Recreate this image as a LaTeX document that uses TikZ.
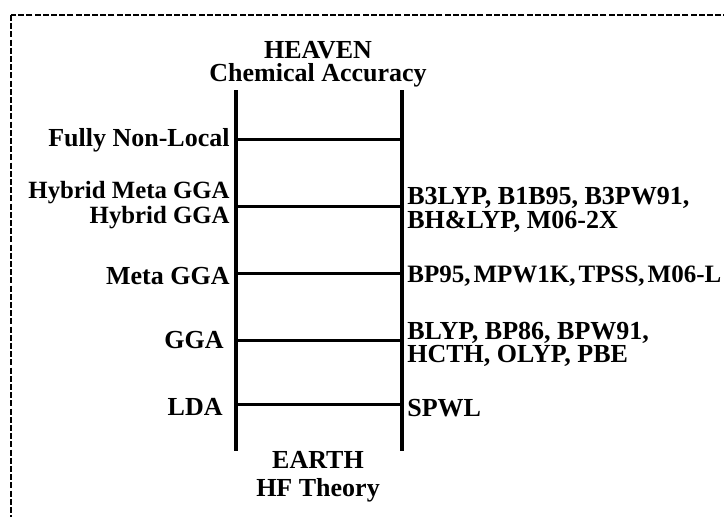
\documentclass[tikz,border=0pt]{standalone}
\usepackage{fontspec}
\setmainfont{Liberation Serif}
\usetikzlibrary{positioning}

\begin{document}
\begin{tikzpicture}[x=0.5pt,y=-0.5pt,
  rail/.style={line width=2pt,line cap=rect},
  rung/.style={line width=1.5pt},
  txt/.style={font=\fontsize{13}{12}\selectfont\bfseries,inner sep=1pt},
  lvl/.style={txt,align=right,anchor=east},
  fnc/.style={txt,align=left,anchor=west},
  pole/.style={txt,align=center}]
\clip (0,0) rectangle (724,517);
\draw[line width=1.1pt,dash pattern=on 3pt off 1.1pt] (11,15) rectangle (760,560);
\node[pole,font=\fontsize{13}{11.5}\selectfont\bfseries] (heaven) at (318,64) {HEAVEN\\Chemical Accuracy};
\node[pole,font=\fontsize{13}{14}\selectfont\bfseries] (earth) at (318,477) {EARTH\\HF Theory};
\coordinate (lt) at (236,92);
\coordinate (lb) at (236,449);
\coordinate (rt) at (402,92);
\coordinate (rb) at (402,449);
\draw[rail] (lt)--(lb);
\draw[rail] (rt)--(rb);
\coordinate (l1) at (236,140);
\coordinate (r1) at (402,140);
\coordinate (l2) at (236,207);
\coordinate (r2) at (402,207);
\coordinate (l3) at (236,274);
\coordinate (r3) at (402,274);
\coordinate (l4) at (236,341);
\coordinate (r4) at (402,341);
\coordinate (l5) at (236,405);
\coordinate (r5) at (402,405);
\draw[rung] (l1)--(r1);
\draw[rung] (l2)--(r2);
\draw[rung] (l3)--(r3);
\draw[rung] (l4)--(r4);
\draw[rung] (l5)--(r5);
\node[lvl] (nonlocal) at (232,140) {Fully Non-Local};
\node[lvl,font=\fontsize{12.4}{12.5}\selectfont\bfseries] (hybrid) at (232,205) {Hybrid Meta GGA\\Hybrid GGA};
\node[lvl] (meta) at (232,276) {Meta GGA};
\node[lvl] (gga) at (226,340) {GGA};
\node[lvl] (lda) at (225,407) {LDA};
\node[fnc] (hybfn) at (405,210) {B3LYP, B1B95, B3PW91,\\BH\&LYP, M06-2X};
\node[fnc,font=\fontsize{12.5}{12}\selectfont\bfseries] (metafn) at (405,276) {\spaceskip=0.12em\relax BP95, MPW1K, TPSS, M06-L};
\node[fnc,font=\fontsize{13}{11.5}\selectfont\bfseries] (ggafn) at (405,344) {BLYP, BP86, BPW91,\\HCTH, OLYP, PBE};
\node[fnc] (ldafn) at (405,408) {SPWL};
\end{tikzpicture}
\end{document}
